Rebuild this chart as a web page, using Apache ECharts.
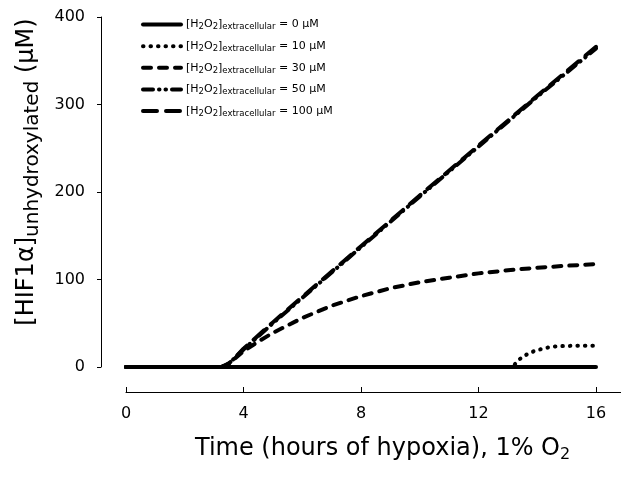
<!DOCTYPE html>
<html>
<head>
<meta charset="utf-8">
<script src="https://cdn.jsdelivr.net/npm/echarts@6/dist/echarts.min.js"></script>
<style>
  html, body { margin: 0; padding: 0; background: #fff; }
  #chart { width: 621px; height: 479px; }
</style>
</head>
<body>
<div id="chart"></div>
<script>
// hours of hypoxia / HIF1a values
const legendNames = ["0", "10", "30", "50", "100"];
const xTicks = [0, 4, 8, 12, 16];

const t0 = [0, 16];
const v0 = [0, 0];

const t10 = [0, 13.15, 13.4, 13.65, 13.9, 14.15, 14.4, 14.65, 14.9, 15.2, 15.6, 16];
const v10 = [0, 0, 9, 14.5, 18.3, 20.6, 22.5, 23.5, 24, 24.2, 24.3, 24.3];

const t30 = [0, 3.25, 3.5, 3.75, 4, 4.5, 5, 6, 7, 8, 9, 10, 11, 12, 13, 14, 15, 16];
const v30 = [0, 0, 4, 11, 18, 29, 39, 56, 70, 81, 90, 97, 102, 107, 110.5, 113.5, 115.7, 117.6];

const t50 = [0, 3.25, 3.5, 3.75, 4, 5, 6, 8, 10, 12, 14, 16];
const v50 = [0, 0, 4, 12, 20, 50, 79, 137, 195, 252, 309, 364];

const t100 = [0, 3.25, 3.5, 3.75, 4, 5, 6, 8, 10, 12, 14, 16];
const v100 = [0, 0, 4, 12, 21, 51, 80, 138, 196, 253, 310, 366];

const font = "DejaVu Sans, Verdana, sans-serif";

function pairs(t, v) {
  return t.map((x, i) => [x, v[i]]);
}

function line(name, t, v, dash) {
  return {
    name: name,
    type: "line",
    data: pairs(t, v),
    symbol: "none",
    showSymbol: false,
    smooth: false,
    lineStyle: { color: "#000", width: 4, type: dash, cap: "round", join: "round" },
    itemStyle: { color: "#000" },
  };
}

const mychart = echarts.init(document.getElementById("chart"));
const option = {
  animation: false,
  backgroundColor: "#fff",
  textStyle: { fontFamily: font },
  // x axis runs past the 16 h tick to the right edge, as in the original figure
  grid: { left: 126, right: 0, top: 17, bottom: 112 },
  legend: {
    orient: "vertical",
    left: 141,
    top: 19,
    padding: 0,
    itemWidth: 38,
    itemHeight: 14,
    itemGap: 9,
    data: legendNames,
    itemStyle: { color: "transparent", borderWidth: 0, opacity: 0 },
    lineStyle: { width: 4 },
    formatter: (name) => "[H{s|2}O{s|2}]{s|extracellular} = " + name + " μM",
    textStyle: {
      fontFamily: font,
      fontSize: 11,
      color: "#000",
      rich: {
        s: { fontFamily: font, fontSize: 8.5, color: "#000", padding: [5, 0, 0, 0] },
      },
    },
  },
  xAxis: {
    type: "value",
    min: 0,
    max: 16.85,
    interval: 4,
    offset: 25,
    splitLine: { show: false },
    axisLine: { show: true, onZero: false, lineStyle: { color: "#000", width: 1 } },
    axisTick: { inside: true, length: 5, lineStyle: { color: "#000" } },
    axisLabel: {
      margin: 14,
      fontSize: 16,
      color: "#000",
      fontFamily: font,
      showMaxLabel: false,
      formatter: (val) => (xTicks.indexOf(val) >= 0 ? String(val) : ""),
    },
  },
  yAxis: {
    type: "value",
    min: 0,
    max: 400,
    interval: 100,
    offset: 25,
    splitLine: { show: false },
    axisLine: { show: true, onZero: false, lineStyle: { color: "#000", width: 1 } },
    axisTick: { show: true, inside: false, length: 4, lineStyle: { color: "#000" } },
    axisLabel: { margin: 16, fontSize: 16, color: "#000", fontFamily: font },
  },
  graphic: [
    {
      type: "text",
      left: 195,
      top: 437,
      style: {
        text: "Time (hours of hypoxia), 1% O{s|2}",
        fontFamily: font,
        fontSize: 24,
        fill: "#000",
        rich: { s: { fontFamily: font, fontSize: 16, fill: "#000", padding: [12, 0, 0, 0] } },
      },
    },
    {
      type: "text",
      x: 27,
      y: 172,
      rotation: Math.PI / 2,
      style: {
        text: "[HIF1α]{s|unhydroxylated} (μM)",
        fontFamily: font,
        fontSize: 24,
        fill: "#000",
        align: "center",
        verticalAlign: "middle",
        rich: { s: { fontFamily: font, fontSize: 20, fill: "#000", padding: [12, 0, 0, 0] } },
      },
    },
  ],
  series: [
    line("0", t0, v0, "solid"),
    line("10", t10, v10, [0.5, 7]),
    line("30", t30, v30, [8, 8]),
    line("50", t50, v50, [10, 6, 0.5, 6, 0.5, 6]),
    line("100", t100, v100, [14, 9]),
  ],
};
mychart.setOption(option);
</script>
</body>
</html>
